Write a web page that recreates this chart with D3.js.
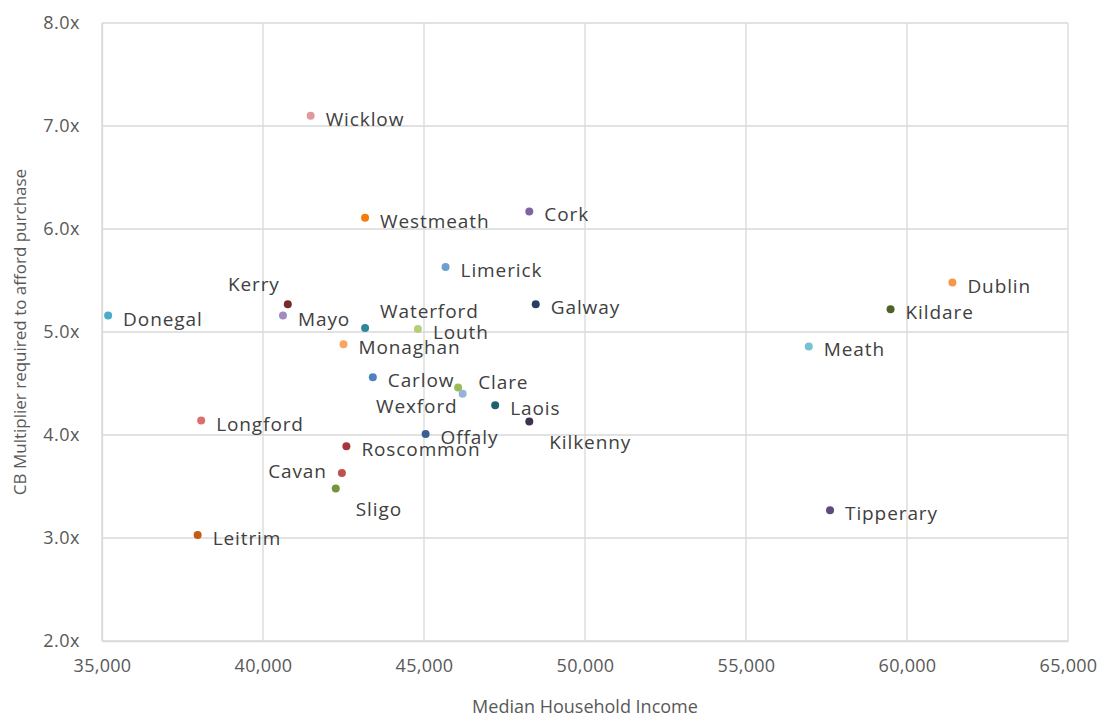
<!DOCTYPE html>
<html>
<head>
<meta charset="utf-8">
<script src="https://cdn.jsdelivr.net/npm/d3@7"></script>
<style>
  body { margin: 0; background: #fff; }
  svg text { font-family: "Open Sans", "Noto Sans", sans-serif; }
</style>
</head>
<body>
<svg id="chart" width="1101" height="718"></svg>
<script>
// Counties, median household income and the Central Bank multiplier needed
const counties = ["Wicklow","Westmeath","Cork","Limerick","Kerry","Donegal","Mayo","Waterford","Louth","Monaghan","Galway","Dublin","Kildare","Meath","Carlow","Clare","Wexford","Laois","Longford","Offaly","Roscommon","Kilkenny","Cavan","Sligo","Leitrim","Tipperary"];
const income = [41480,43170,48270,45670,40770,35190,40620,43170,44810,42500,48470,61410,59490,56950,43410,46060,46200,47210,38080,45050,42590,48270,42450,42260,37970,57610];
const multiplier = [7.10,6.11,6.17,5.63,5.27,5.16,5.16,5.04,5.03,4.88,5.27,5.48,5.22,4.86,4.56,4.46,4.40,4.29,4.14,4.01,3.89,4.13,3.63,3.48,3.03,3.27];
const pointColors = ["#df9a9b","#f47d0a","#8064a2","#6e9fd1","#772c2a","#4bacc6","#a08bc4","#31859c","#b3cf7a","#f9a55e","#254061","#f79646","#4f6228","#78c0d4","#4f81bd","#9bbb59","#95b3d7","#1f6070","#da6f6d","#366092","#a5373a","#403151","#c0504d","#77933c","#c55a11","#60497a"];
// label placement per county relative to its dot
const labelSide = ["r","r","r","r","above-left","r","r","above-right","r","r","r","r","r","r","r","up-right","below-left","r","r","r","r","below-right","left","below-right","r","r"];

const xTicks = [35000,40000,45000,50000,55000,60000,65000];
const yTicks = [2,3,4,5,6,7,8];

const svg = d3.select("#chart");
const margin = {left: 102, right: 1068, top: 23, bottom: 641};

const x = d3.scaleLinear().domain([35000, 65000]).range([margin.left, margin.right]);
const y = d3.scaleLinear().domain([2, 8]).range([margin.bottom, margin.top]);

// gridlines
const grid = svg.append("g");
grid.selectAll("line.v").data(xTicks).join("line")
  .attr("x1", d => x(d)).attr("x2", d => x(d))
  .attr("y1", margin.top).attr("y2", margin.bottom)
  .attr("stroke", "#d9d9d9").attr("stroke-width", 1.3);
grid.selectAll("line.h").data(yTicks).join("line")
  .attr("x1", margin.left).attr("x2", margin.right)
  .attr("y1", d => y(d)).attr("y2", d => y(d))
  .attr("stroke", "#d9d9d9").attr("stroke-width", 1.3);

// axes
const xAxis = d3.axisBottom(x).tickValues(xTicks).tickSize(0).tickPadding(18)
  .tickFormat(d3.format(","));
const gx = svg.append("g").attr("transform", `translate(0,${margin.bottom})`).call(xAxis);
gx.select(".domain").attr("stroke", "#d9d9d9").attr("stroke-width", 1.3);
gx.selectAll("text").attr("fill", "#595959").attr("font-size", 18)
  .attr("letter-spacing", 0.3)
  .style("font-family", "'Open Sans', sans-serif");

const yAxis = d3.axisLeft(y).tickValues(yTicks).tickSize(0).tickPadding(22)
  .tickFormat(d => d3.format(".1f")(d) + "x");
const gy = svg.append("g").attr("transform", `translate(${margin.left},0)`).call(yAxis);
gy.select(".domain").attr("stroke", "#d9d9d9").attr("stroke-width", 1.3);
gy.selectAll("text").attr("fill", "#595959").attr("font-size", 18)
  .attr("letter-spacing", 0.5)
  .style("font-family", "'Open Sans', sans-serif");

// axis titles
svg.append("text").attr("x", (margin.left + margin.right) / 2).attr("y", 713)
  .attr("text-anchor", "middle").attr("fill", "#595959").attr("font-size", 18)
  .text("Median Household Income");
svg.append("text")
  .attr("transform", `translate(26,${(margin.top + margin.bottom) / 2}) rotate(-90)`)
  .attr("text-anchor", "middle").attr("fill", "#595959").attr("font-size", 17)
  .text("CB Multiplier required to afford purchase");

const data = counties.map((c, i) => ({name: c, inc: income[i], mult: multiplier[i], color: pointColors[i], side: labelSide[i]}));

// points
svg.append("g").selectAll("circle").data(data).join("circle")
  .attr("cx", d => x(d.inc)).attr("cy", d => y(d.mult)).attr("r", 4)
  .attr("fill", d => d.color);

// labels
const offsets = {
  "r": [15, 10, "start"],
  "up-right": [20, 1, "start"],
  "above-left": [-8, -13, "end"],
  "above-right": [15, -10, "start"],
  "below-left": [-5, 19, "end"],
  "below-right": [20, 27, "start"],
  "left": [-15, 5, "end"]
};
svg.append("g").selectAll("text").data(data).join("text")
  .attr("x", d => x(d.inc) + offsets[d.side][0])
  .attr("y", d => y(d.mult) + offsets[d.side][1])
  .attr("text-anchor", d => offsets[d.side][2])
  .attr("fill", "#404040").attr("font-size", 19).attr("letter-spacing", 0.9)
  .text(d => d.name);
</script>
</body>
</html>
